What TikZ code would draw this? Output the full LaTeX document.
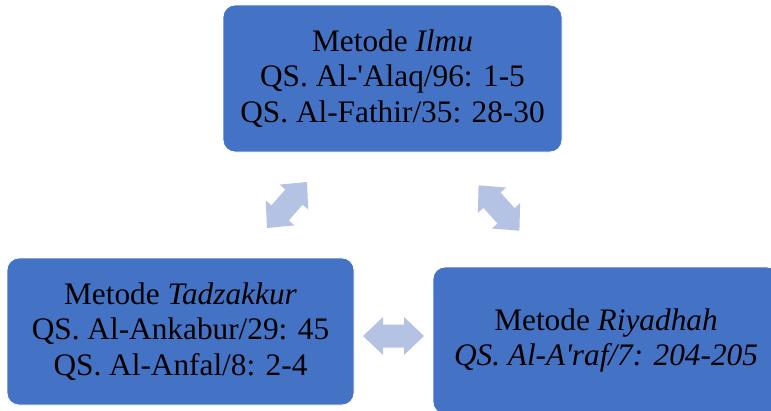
\documentclass[tikz,border=0pt]{standalone}
\usepackage{fontspec}
\setmainfont{Liberation Serif}
\definecolor{boxblue}{HTML}{4472C4}
\definecolor{arrowblue}{HTML}{B4C2E3}
\newcommand{\sq}{\XeTeXglyph\XeTeXglyphindex "quotesingle"\relax}
\tikzset{
  boxnode/.style={draw=white, line width=0.8pt, fill=boxblue, rounded corners=12pt,
    inner sep=0pt, align=center, text=black,
    font=\fontsize{31.3}{35.5}\selectfont},
  dblarrow/.pic={
    \fill[arrowblue] (-30.5,0) -- (-10.5,19) -- (-10.5,11.5) -- (10.5,11.5) -- (10.5,19)
      -- (30.5,0) -- (10.5,-19) -- (10.5,-11.5) -- (-10.5,-11.5) -- (-10.5,-19) -- cycle;
  }
}
\begin{document}
\begin{tikzpicture}[x=1pt,y=-1pt]
\useasboundingbox (0,0) rectangle (771,410);
\clip (0,0) rectangle (771,410);
\node[boxnode, minimum width=339pt, minimum height=147pt] (top) at (392.5,78.5)
  {Metode \textit{Ilmu}\\QS. Al-\sq Alaq/96: 1-5\\QS. Al-Fathir/35: 28-30};
\node[boxnode, minimum width=347pt, minimum height=147pt] (left) at (180.5,331.5)
  {Metode \textit{Tadzakkur}\\QS. Al-Ankabur/29: 45\\QS. Al-Anfal/8: 2-4};
\node[boxnode, minimum width=346pt, minimum height=147pt] (right) at (606,340.5)
  {Metode \textit{Riyadhah}\\\textit{QS. Al-A\sq raf/7: 204-205}};
\pic[rotate=49] (aleft) at (287,205) {dblarrow};
\pic[rotate=-48] (aright) at (499,208) {dblarrow};
\pic (abottom) at (393.5,336) {dblarrow};
\end{tikzpicture}
\end{document}
